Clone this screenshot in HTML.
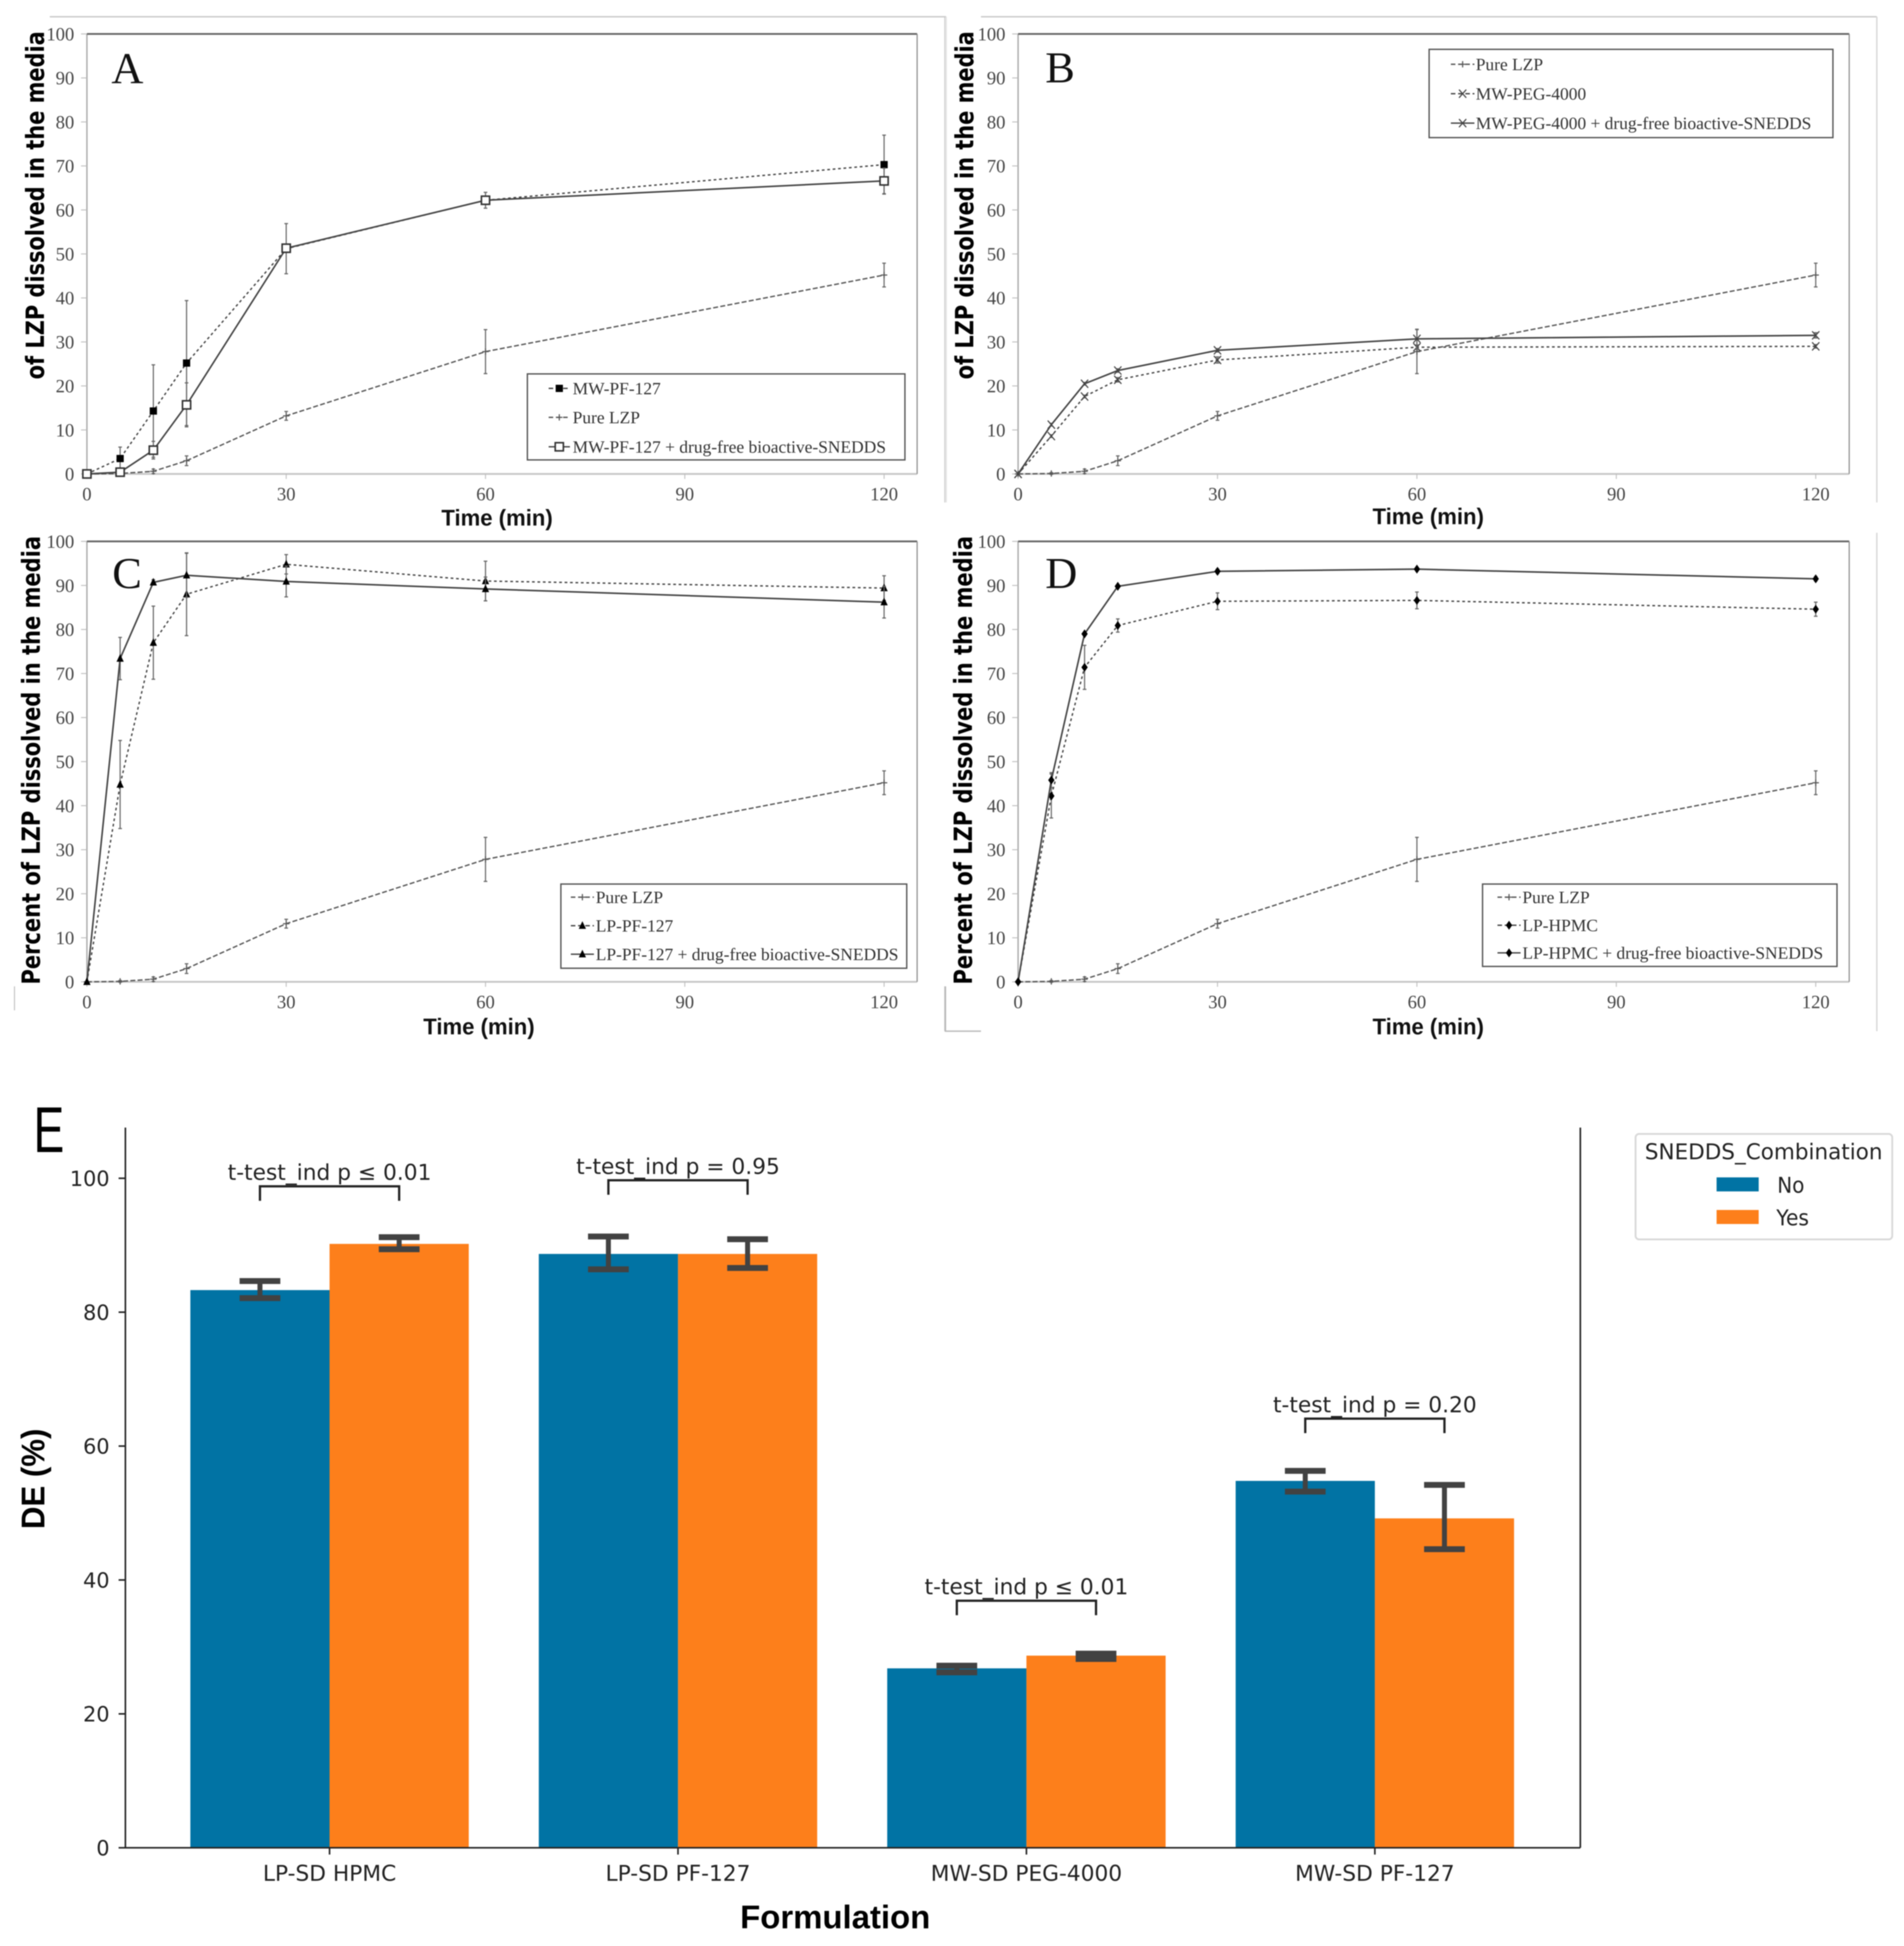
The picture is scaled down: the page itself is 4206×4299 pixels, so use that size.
<!DOCTYPE html>
<html lang="en">
<head>
<meta charset="utf-8">
<title>LZP dissolution profiles and dissolution efficiency</title>
<style>
html,body{margin:0;padding:0;background:#fff;width:4206px;height:4299px;overflow:hidden}
svg{display:block;filter:blur(1px)}
</style>
</head>
<body>
<svg id="figure" xmlns="http://www.w3.org/2000/svg" width="4206" height="4299" viewBox="0 0 4206 4299"></svg>
<script>
// ---- Line chart data (time in minutes, percent dissolved) ----
const timePoints = [0, 5, 10, 15, 30, 60, 120];
const yTickValues = [0, 10, 20, 30, 40, 50, 60, 70, 80, 90, 100];
const xTickValues = [0, 30, 60, 90, 120];

const pureLzp = [0, 0.1, 0.6, 3.0, 13.2, 27.8, 45.2];
const pureLzpErr = [0, 0.2, 0.5, 1.1, 1.0, 5.0, 2.7];

const mwPf127 = [0, 3.5, 14.3, 25.2, 51.2, 62.2, 70.3];
const mwPf127Err = [0, 2.6, 10.5, 14.2, 5.7, 1.8, 6.7];
const mwPf127Sn = [0, 0.4, 5.4, 15.7, 51.3, 62.2, 66.6];
const mwPf127SnErr = [0, 0.5, 2.0, 5.0, 0.8, 0.8, 2.9];

const mwPeg = [0, 8.6, 17.6, 21.4, 25.9, 28.8, 29.0];
const mwPegErr = [0, 0.3, 0.3, 0.5, 0.7, 0.5, 0.4];
const mwPegSn = [0, 11.2, 20.5, 23.5, 28.1, 30.7, 31.5];
const mwPegSnErr = [0, 0.3, 0.3, 0.4, 0.4, 2.2, 0.6];

const lpPf127 = [0, 44.8, 77.0, 88.0, 94.8, 91.0, 89.4];
const lpPf127Err = [0, 10.0, 8.3, 9.4, 2.2, 4.5, 2.8];
const lpPf127Sn = [0, 73.4, 90.7, 92.3, 90.9, 89.2, 86.2];
const lpPf127SnErr = [0, 4.8, 0.6, 5.0, 3.5, 2.7, 3.6];

const lpHpmc = [0, 42.2, 71.4, 80.9, 86.4, 86.6, 84.6];
const lpHpmcErr = [0, 5.0, 5.0, 1.5, 1.9, 1.9, 1.6];
const lpHpmcSn = [0, 45.8, 79.0, 89.8, 93.2, 93.7, 91.5];
const lpHpmcSnErr = [0, 1.7, 0.3, 0.3, 0.5, 0.4, 0.5];

// ---- Bar chart data (dissolution efficiency) ----
const formulations = ['LP-SD HPMC', 'LP-SD PF-127', 'MW-SD PEG-4000', 'MW-SD PF-127'];
const deNo = [83.3, 88.7, 26.8, 54.8];
const deYes = [90.2, 88.7, 28.7, 49.2];
const deNoLow = [82.1, 86.4, 26.2, 53.2];
const deNoHigh = [84.65, 91.3, 27.2, 56.3];
const deYesLow = [89.4, 86.6, 28.2, 44.6];
const deYesHigh = [91.2, 90.9, 29.0, 54.2];
const pValueLabels = ['t-test_ind p \u2264 0.01', 't-test_ind p = 0.95', 't-test_ind p \u2264 0.01', 't-test_ind p = 0.20'];
const bracketLevels = [98.8, 99.7, 36.9, 64.1];
const deTickValues = [0, 20, 40, 60, 80, 100];

// ---- Rendering ----
const svg = document.getElementById('figure');
const NS = 'http://www.w3.org/2000/svg';
const SERIF = '"Liberation Serif", serif';
const SANS = '"Liberation Sans", sans-serif';
const DEJAVU = '"DejaVu Sans", sans-serif';

function make(tag, attrs, name, parent, text) {
  const el = document.createElementNS(NS, tag);
  for (const k in attrs) el.setAttribute(k, attrs[k]);
  
  
  if (text !== undefined) el.textContent = text;
  (parent || svg).appendChild(el);
  return el;
}
function hline(x1, y1, x2, y2, color, w, name, parent, dash) {
  const a = {x1: x1, y1: y1, x2: x2, y2: y2, stroke: color, 'stroke-width': w};
  if (dash) a['stroke-dasharray'] = dash;
  return make('line', a, name, parent);
}

function drawMarker(kind, x, y, parent, name) {
  if (kind === 'square') {
    make('rect', {x: x - 8, y: y - 8, width: 16, height: 16, fill: '#000'}, name, parent);
  } else if (kind === 'open') {
    make('rect', {x: x - 9, y: y - 9, width: 18, height: 18, fill: '#fff', stroke: '#333', 'stroke-width': 3.5}, name, parent);
  } else if (kind === 'plus') {
    make('path', {d: `M${x - 7} ${y}H${x + 7}M${x} ${y - 7}V${y + 7}`, stroke: '#555', 'stroke-width': 2.5, fill: 'none'}, name, parent);
  } else if (kind === 'cross') {
    make('path', {d: `M${x - 8} ${y - 9}L${x + 8} ${y + 9}M${x + 8} ${y - 9}L${x - 8} ${y + 9}`, stroke: '#444', 'stroke-width': 2.5, fill: 'none'}, name, parent);
  } else if (kind === 'triangle') {
    make('path', {d: `M${x} ${y - 10}L${x + 8} ${y + 7}L${x - 8} ${y + 7}Z`, fill: '#000'}, name, parent);
  } else if (kind === 'diamond') {
    make('path', {d: `M${x} ${y - 10}L${x + 7} ${y}L${x} ${y + 10}L${x - 7} ${y}Z`, fill: '#000'}, name, parent);
  }
}

const pureSeries = {label: 'Pure LZP', key: 'pure-lzp', values: pureLzp, err: pureLzpErr, marker: 'plus', dash: '11 5', color: '#555', width: 3};

const panels = [
  {id: 'a', letter: 'A', x0: 192, x120: 1953, right: 2026, y0: 1047, y100: 75, tickRight: 164, letterX: 246, letterY: 184,
   titleX: 80, titleTop: 69, titleBottom: 838, title: 'of LZP dissolved in the media',
   timeX: 1098, timeY: 1161, xLabelY: 1105,
   legend: {x1: 1165, x2: 1999, y1: 826, y2: 1016, lineX1: 1212, lineX2: 1259, textX: 1265, rows: [858, 922, 987]},
   series: [
     {label: 'MW-PF-127', key: 'mw-pf-127', values: mwPf127, err: mwPf127Err, marker: 'square', dash: '6 6', color: '#444', width: 3},
     pureSeries,
     {label: 'MW-PF-127 + drug-free bioactive-SNEDDS', key: 'mw-pf-127-snedds', values: mwPf127Sn, err: mwPf127SnErr, marker: 'open', dash: '', color: '#444', width: 3.5}
   ]},
  {id: 'b', letter: 'B', x0: 2249, x120: 4011, right: 4085, y0: 1047, y100: 75, tickRight: 2221, letterX: 2309, letterY: 182,
   titleX: 2133, titleTop: 69, titleBottom: 838, title: 'of LZP dissolved in the media',
   timeX: 3155, timeY: 1158, xLabelY: 1105,
   legend: {x1: 3157, x2: 4049, y1: 109, y2: 304, lineX1: 3205, lineX2: 3257, textX: 3260, rows: [142, 207, 272]},
   series: [
     pureSeries,
     {label: 'MW-PEG-4000', key: 'mw-peg-4000', values: mwPeg, err: mwPegErr, marker: 'cross', dash: '6 6', color: '#444', width: 3},
     {label: 'MW-PEG-4000 + drug-free bioactive-SNEDDS', key: 'mw-peg-4000-snedds', values: mwPegSn, err: mwPegSnErr, marker: 'cross', dash: '', color: '#444', width: 3.5}
   ]},
  {id: 'c', letter: 'C', x0: 192, x120: 1953, right: 2026, y0: 2169, y100: 1196, tickRight: 164, letterX: 248, letterY: 1299,
   titleX: 71, titleTop: 1184, titleBottom: 2175, title: 'Percent of LZP dissolved in the media',
   timeX: 1058, timeY: 2285, xLabelY: 2227,
   legend: {x1: 1239, x2: 2003, y1: 1953, y2: 2139, lineX1: 1261, lineX2: 1312, textX: 1316, rows: [1982, 2045, 2108]},
   series: [
     pureSeries,
     {label: 'LP-PF-127', key: 'lp-pf-127', values: lpPf127, err: lpPf127Err, marker: 'triangle', dash: '6 6', color: '#444', width: 3},
     {label: 'LP-PF-127 + drug-free bioactive-SNEDDS', key: 'lp-pf-127-snedds', values: lpPf127Sn, err: lpPf127SnErr, marker: 'triangle', dash: '', color: '#444', width: 3.5}
   ]},
  {id: 'd', letter: 'D', x0: 2249, x120: 4011, right: 4085, y0: 2169, y100: 1196, tickRight: 2221, letterX: 2309, letterY: 1299,
   titleX: 2130, titleTop: 1184, titleBottom: 2175, title: 'Percent of LZP dissolved in the media',
   timeX: 3155, timeY: 2285, xLabelY: 2227,
   legend: {x1: 3275, x2: 4058, y1: 1953, y2: 2135, lineX1: 3308, lineX2: 3359, textX: 3363, rows: [1982, 2044, 2105]},
   series: [
     pureSeries,
     {label: 'LP-HPMC', key: 'lp-hpmc', values: lpHpmc, err: lpHpmcErr, marker: 'diamond', dash: '6 6', color: '#444', width: 3},
     {label: 'LP-HPMC + drug-free bioactive-SNEDDS', key: 'lp-hpmc-snedds', values: lpHpmcSn, err: lpHpmcSnErr, marker: 'diamond', dash: '', color: '#444', width: 3.5}
   ]}
];

function drawFrames() {
  const c = '#c8c8c8';
  hline(110, 37, 2090, 37, c, 3, 'frame-a-top');
  hline(2090, 37, 2090, 1110, '#e2e2e2', 3, 'frame-a-right');
  hline(2087, 37, 2087, 1110, c, 2, 'frame-b-left');
  hline(2167, 37, 4146, 37, c, 3, 'frame-b-top');
  hline(4146, 37, 4146, 1110, '#d6d6d6', 3, 'frame-b-right');
  hline(32, 2179, 32, 2232, '#b8b8b8', 2, 'frame-c-left');
  hline(2089, 2179, 2089, 2278, '#b8b8b8', 2, 'frame-c-right');
  hline(2087, 2179, 2087, 2278, '#b8b8b8', 2, 'frame-d-left');
  hline(2087, 2278, 2167, 2278, '#b8b8b8', 3, 'frame-d-bottom');
  hline(4146, 1177, 4146, 2278, '#d6d6d6', 3, 'frame-d-right');
}

function drawPanel(p) {
  const g = make('g', {}, 'panel-' + p.id);
  const xPos = t => p.x0 + t * (p.x120 - p.x0) / 120;
  const yPos = v => p.y0 - v * (p.y0 - p.y100) / 100;

  // plot box
  hline(p.x0, p.y100, p.x0, p.y0, '#a8a8a8', 3, 'y-axis-line', g);
  hline(p.x0, p.y0, p.right, p.y0, '#c6c6c6', 4, 'x-axis-line', g);
  hline(p.x0, p.y100, p.right, p.y100, '#666', 4, 'plot-top-border', g);
  hline(p.right, p.y100, p.right, p.y0, '#8a8a8a', 2.5, 'plot-right-border', g);

  yTickValues.forEach(v => {
    hline(p.x0 - 13, yPos(v), p.x0, yPos(v), '#bbb', 2, 'y-tick', g);
    make('text', {x: p.tickRight, y: yPos(v) + 14, 'text-anchor': 'end', 'font-family': SERIF, 'font-size': 41, fill: '#444'}, 'y-tick-label', g, String(v));
  });
  xTickValues.forEach(v => {
    hline(xPos(v), p.y0, xPos(v), p.y0 + 11, '#bbb', 2, 'x-tick', g);
    make('text', {x: xPos(v), y: p.xLabelY, 'text-anchor': 'middle', 'font-family': SERIF, 'font-size': 41, fill: '#444'}, 'x-tick-label', g, String(v));
  });

  // panel letter and axis titles
  make('text', {x: p.letterX, y: p.letterY, 'font-family': SERIF, 'font-size': 98, fill: '#111'}, 'panel-letter', g, p.letter);
  const cy = (p.titleTop + p.titleBottom) / 2;
  make('text', {x: 0, y: 0, transform: `translate(${p.titleX + 17},${cy}) rotate(-90)`, 'text-anchor': 'middle', 'font-family': DEJAVU, 'font-weight': 'bold', 'font-size': 55, fill: '#000', textLength: p.titleBottom - p.titleTop, lengthAdjust: 'spacingAndGlyphs'}, 'y-axis-title', g, p.title);
  make('text', {x: p.timeX, y: p.timeY, 'text-anchor': 'middle', 'font-family': SANS, 'font-weight': 'bold', 'font-size': 50, fill: '#111', textLength: 246, lengthAdjust: 'spacingAndGlyphs'}, 'x-axis-title', g, 'Time (min)');

  // series
  p.series.forEach(s => {
    const sg = make('g', {}, 'series-' + s.key, g);
    const pts = timePoints.map((t, i) => xPos(t) + ',' + yPos(s.values[i])).join(' ');
    const attrs = {points: pts, fill: 'none', stroke: s.color, 'stroke-width': s.width};
    if (s.dash) attrs['stroke-dasharray'] = s.dash;
    timePoints.forEach((t, i) => {
      const e = s.err[i];
      if (!e) return;
      const x = xPos(t);
      hline(x, yPos(s.values[i] - e), x, yPos(s.values[i] + e), '#666', 2.5, 'error-bar', sg);
      hline(x - 4, yPos(s.values[i] + e), x + 4, yPos(s.values[i] + e), '#666', 2.5, 'error-cap', sg);
      hline(x - 4, yPos(s.values[i] - e), x + 4, yPos(s.values[i] - e), '#666', 2.5, 'error-cap', sg);
    });
    make('polyline', attrs, 'series-line', sg);
    timePoints.forEach((t, i) => drawMarker(s.marker, xPos(t), yPos(s.values[i]), sg, 'data-point'));
  });

  // legend
  const L = p.legend;
  const lg = make('g', {}, 'legend', g);
  make('rect', {x: L.x1, y: L.y1, width: L.x2 - L.x1, height: L.y2 - L.y1, fill: '#fff', stroke: '#555', 'stroke-width': 3}, 'legend-box', lg);
  p.series.forEach((s, i) => {
    const y = L.rows[i];
    const la = {x1: L.lineX1, y1: y, x2: L.lineX2, y2: y, stroke: s.color, 'stroke-width': 3};
    if (s.dash) la['stroke-dasharray'] = '10 6';
    make('line', la, 'legend-sample', lg);
    drawMarker(s.marker, (L.lineX1 + L.lineX2) / 2, y, lg, 'legend-marker');
    make('text', {x: L.textX, y: y + 13, 'font-family': SERIF, 'font-size': 38.5, fill: '#333'}, 'legend-entry', lg, s.label);
  });
}

function drawBars() {
  const g = make('g', {}, 'panel-e');
  const axLeft = 277, axRight = 3491, axTop = 2491, y0 = 4082, perUnit = 14.79;
  const groupX = i => 728 + i * 769.7;
  const barW = 307.5;
  const yPos = v => y0 - v * perUnit;

  make('text', {x: 74, y: 2545, 'font-family': SANS, 'font-size': 143, fill: '#000', textLength: 68, lengthAdjust: 'spacingAndGlyphs'}, 'panel-letter', g, 'E');

  formulations.forEach((name, i) => {
    const cx = groupX(i);
    make('rect', {x: cx - barW, y: yPos(deNo[i]), width: barW, height: deNo[i] * perUnit, fill: '#0173a4'}, 'bar-no-' + i, g);
    make('rect', {x: cx, y: yPos(deYes[i]), width: barW, height: deYes[i] * perUnit, fill: '#fd7f1b'}, 'bar-yes-' + i, g);
  });

  function errBar(x, low, high) {
    hline(x, yPos(low), x, yPos(high), '#424242', 11, 'error-bar', g);
    hline(x - 45, yPos(high), x + 45, yPos(high), '#424242', 13, 'error-cap', g);
    hline(x - 45, yPos(low), x + 45, yPos(low), '#424242', 13, 'error-cap', g);
  }
  formulations.forEach((name, i) => {
    const cx = groupX(i);
    errBar(cx - barW / 2, deNoLow[i], deNoHigh[i]);
    errBar(cx + barW / 2, deYesLow[i], deYesHigh[i]);

    const xa = cx - barW / 2, xb = cx + barW / 2, ty = yPos(bracketLevels[i]);
    make('path', {d: `M${xa} ${ty + 32}V${ty}H${xb}V${ty + 32}`, fill: 'none', stroke: '#222', 'stroke-width': 5}, 'significance-bracket', g);
    make('text', {x: cx, y: ty - 14, 'text-anchor': 'middle', 'font-family': DEJAVU, 'font-size': 48, fill: '#222', textLength: 450, lengthAdjust: 'spacingAndGlyphs'}, 'p-value-label', g, pValueLabels[i]);

    hline(cx, y0, cx, y0 + 15, '#222', 3.5, 'x-tick', g);
    make('text', {x: cx, y: 4155, 'text-anchor': 'middle', 'font-family': DEJAVU, 'font-size': 48, fill: '#222'}, 'x-tick-label', g, name);
  });

  hline(axLeft, axTop, axLeft, y0, '#222', 3.5, 'y-axis-line', g);
  hline(axRight, axTop, axRight, y0, '#222', 3.5, 'right-border', g);
  hline(axLeft, y0, axRight, y0, '#222', 3.5, 'x-axis-line', g);

  deTickValues.forEach(v => {
    hline(axLeft - 15, yPos(v), axLeft, yPos(v), '#222', 3.5, 'y-tick', g);
    make('text', {x: 242, y: yPos(v) + 17, 'text-anchor': 'end', 'font-family': DEJAVU, 'font-size': 46, fill: '#222'}, 'y-tick-label', g, String(v));
  });

  make('text', {x: 0, y: 0, transform: 'translate(98,3267) rotate(-90)', 'text-anchor': 'middle', 'font-family': SANS, 'font-weight': 'bold', 'font-size': 72, fill: '#000', textLength: 222, lengthAdjust: 'spacingAndGlyphs'}, 'y-axis-title', g, 'DE (%)');
  make('text', {x: 1845, y: 4260, 'text-anchor': 'middle', 'font-family': SANS, 'font-weight': 'bold', 'font-size': 72, fill: '#000', textLength: 420, lengthAdjust: 'spacingAndGlyphs'}, 'x-axis-title', g, 'Formulation');

  const lg = make('g', {}, 'legend', g);
  make('rect', {x: 3613, y: 2505, width: 567, height: 233, rx: 8, fill: '#fff', stroke: '#d8d8d8', 'stroke-width': 4}, 'legend-box', lg);
  make('text', {x: 3896, y: 2561, 'text-anchor': 'middle', 'font-family': DEJAVU, 'font-size': 48, fill: '#222', textLength: 525, lengthAdjust: 'spacingAndGlyphs'}, 'legend-title', lg, 'SNEDDS_Combination');
  make('rect', {x: 3792, y: 2601, width: 93, height: 31, fill: '#0173a4'}, 'legend-swatch-no', lg);
  make('rect', {x: 3792, y: 2673, width: 93, height: 31, fill: '#fd7f1b'}, 'legend-swatch-yes', lg);
  make('text', {x: 3926, y: 2635, 'font-family': DEJAVU, 'font-size': 48, fill: '#222', textLength: 60, lengthAdjust: 'spacingAndGlyphs'}, 'legend-entry-no', lg, 'No');
  make('text', {x: 3924, y: 2707, 'font-family': DEJAVU, 'font-size': 48, fill: '#222', textLength: 72, lengthAdjust: 'spacingAndGlyphs'}, 'legend-entry-yes', lg, 'Yes');
}

drawFrames();
panels.forEach(drawPanel);
drawBars();
</script>
</body>
</html>
